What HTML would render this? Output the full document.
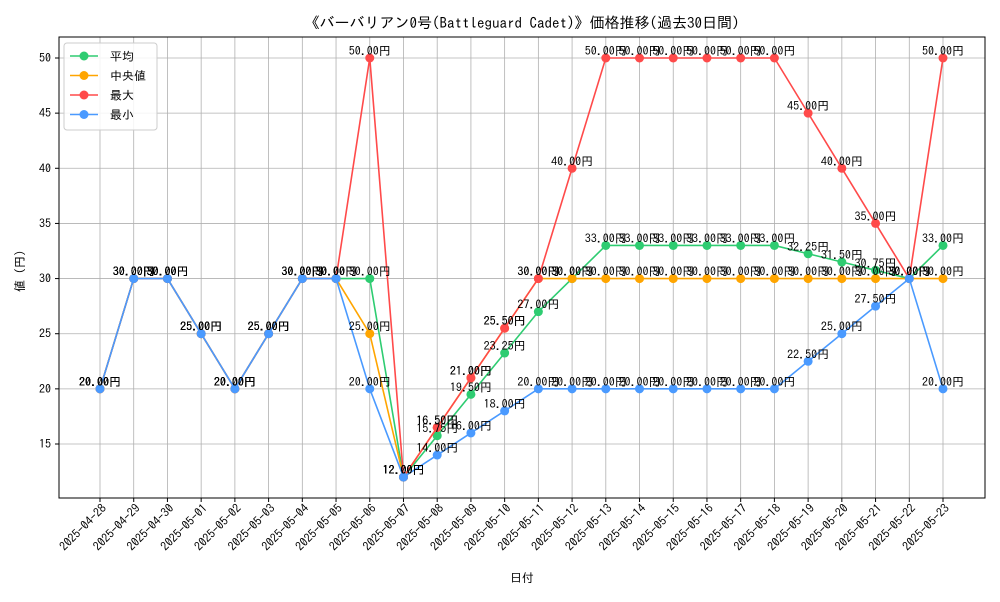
<!DOCTYPE html>
<html><head><meta charset="utf-8">
<style>
body{margin:0;background:#fff;font-family:"IPAGothic","Noto Sans CJK JP",sans-serif;}
svg text{font-family:"IPAGothic","Noto Sans CJK JP",sans-serif;}
</style></head>
<body>
<svg id="chart" width="1000" height="600" xmlns="http://www.w3.org/2000/svg">
<rect x="0" y="0" width="1000" height="600" fill="#fff"/>
<text x="522" y="28" text-anchor="middle" font-size="15">《バーバリアン0号(Battleguard Cadet)》価格推移(過去30日間)</text>
<g id="grid"></g>
<g id="axes"></g>
<g id="series"></g>
<g id="labels"></g>
<rect x="59" y="37" width="926" height="461" fill="none" stroke="#000" stroke-width="1"/>
<text x="522" y="582" text-anchor="middle" font-size="12">日付</text>
<text transform="translate(24,268) rotate(-90)" text-anchor="middle" font-size="12">値（円）</text>
<g>
<rect x="64" y="43" width="93" height="87" fill="#fff" fill-opacity="0.85" stroke="#ccc" rx="3"/>
<g id="legend-items"></g>
</g>
</svg>
<script>
const dates=["2025-04-28","2025-04-29","2025-04-30","2025-05-01","2025-05-02","2025-05-03","2025-05-04","2025-05-05","2025-05-06","2025-05-07","2025-05-08","2025-05-09","2025-05-10","2025-05-11","2025-05-12","2025-05-13","2025-05-14","2025-05-15","2025-05-16","2025-05-17","2025-05-18","2025-05-19","2025-05-20","2025-05-21","2025-05-22","2025-05-23"];
const avgValues=[20,30,30,25,20,25,30,30,30,12,15.75,19.5,23.25,27,30,33,33,33,33,33,33,32.25,31.5,30.75,30,33];
const medianValues=[20,30,30,25,20,25,30,30,25,12,16.5,21,25.5,30,30,30,30,30,30,30,30,30,30,30,30,30];
const maxValues=[20,30,30,25,20,25,30,30,50,12,16.5,21,25.5,30,40,50,50,50,50,50,50,45,40,35,30,50];
const minValues=[20,30,30,25,20,25,30,30,20,12,14,16,18,20,20,20,20,20,20,20,20,22.5,25,27.5,30,20];
const yTicks=[15,20,25,30,35,40,45,50];
const seriesNames=["平均","中央値","最大","最小"];

const NS="http://www.w3.org/2000/svg";
const x0=100,x1=943;
function xs(i){return x0+(x1-x0)*i/(dates.length-1);}
function ys(v){return 444-(v-15)*(386/35);}
function mk(tag,attrs,parent){const e=document.createElementNS(NS,tag);for(const k in attrs)e.setAttribute(k,attrs[k]);parent.appendChild(e);return e;}
const grid=document.getElementById('grid'),axes=document.getElementById('axes'),sg=document.getElementById('series'),lg=document.getElementById('labels');
dates.forEach((d,i)=>{
  const x=xs(i);
  const gl=mk('line',{x1:x,x2:x,y1:37,y2:498,stroke:'#b0b0b0','stroke-width':0.8},grid);
  
  
  mk('line',{x1:x,x2:x,y1:498,y2:502,stroke:'#000'},axes);
  const t=mk('text',{x:x+7,y:509,'font-size':12,'text-anchor':'end',transform:`rotate(-45 ${x+7} 509)`},axes);
  
  
  t.textContent=d;
});
yTicks.forEach(v=>{
  const y=ys(v);
  const gl=mk('line',{x1:59,x2:985,y1:y,y2:y,stroke:'#b0b0b0','stroke-width':0.8},grid);
  
  
  mk('line',{x1:55,x2:59,y1:y,y2:y,stroke:'#000'},axes);
  const t=mk('text',{x:51,y:y+4,'font-size':12,'text-anchor':'end'},axes);
  
  
  t.textContent=v;
});
const allSeries=[avgValues,medianValues,maxValues,minValues];
const colors=["#2ecc71","#ffa500","#ff4a4a","#4a9aff"];
const keys=["avg","median","max","min"];
allSeries.forEach((vals,s)=>{
  const pts=vals.map((v,i)=>xs(i)+','+ys(v)).join(' ');
  const pl=mk('polyline',{points:pts,fill:'none',stroke:colors[s],'stroke-width':1.6},sg);
  
  
  vals.forEach((v,i)=>{
    const c=mk('circle',{cx:xs(i),cy:ys(v),r:4.5,fill:colors[s]},sg);
    
    
    const t=mk('text',{x:xs(i),y:ys(v)-3,'font-size':12,'text-anchor':'middle'},lg);
    
    
    t.textContent=v.toFixed(2)+'円';
  });
});
const li=document.getElementById('legend-items');
seriesNames.forEach((n,s)=>{
  const y=56+s*19.5;
  const l=mk('line',{x1:70,x2:98,y1:y,y2:y,stroke:colors[s],'stroke-width':1.6},li);
  
  
  const c=mk('circle',{cx:84,cy:y,r:4.5,fill:colors[s]},li);
  
  
  const t=mk('text',{x:110,y:y+4.5,'font-size':12},li);
  
  
  t.textContent=n;
});
</script>
</body></html>
